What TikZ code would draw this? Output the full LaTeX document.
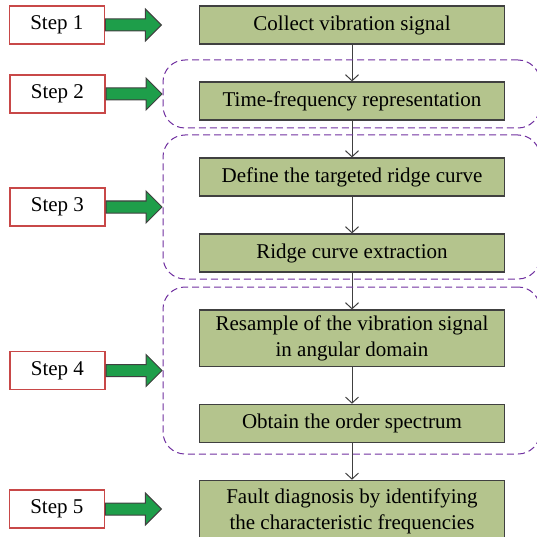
\documentclass[tikz,border=0pt]{standalone}
\usepackage{fontspec}
\setmainfont{Liberation Serif}
\usetikzlibrary{shapes, shapes.arrows, arrows.meta, positioning, fit}

\definecolor{boxgreen}{RGB}{180,196,141}
\definecolor{arrowgreen}{RGB}{30,158,74}
\definecolor{edgegray}{RGB}{64,64,64}
\definecolor{stepred}{RGB}{200,72,72}
\definecolor{grppurple}{RGB}{112,48,160}

\begin{document}
\begin{tikzpicture}[x=1pt, y=-1pt, node distance=36.8pt, line width=1pt]
\tikzstyle{every node}=[font=\fontsize{21}{26}\selectfont]
\tikzstyle{task}=[draw=edgegray, fill=boxgreen, line width=1.2pt, minimum width=305pt, minimum height=38pt, inner sep=5.5pt, align=center]
\tikzstyle{stepbox}=[draw=stepred, fill=white, line width=1.2pt, minimum width=95pt, minimum height=38pt]
\tikzstyle{bigarrow}=[single arrow, draw=edgegray, fill=arrowgreen, line width=1pt, minimum height=56pt, minimum width=31pt, single arrow head extend=10pt, single arrow head indent=0pt, inner xsep=0pt, inner ysep=5.5pt]
\tikzstyle{grp}=[draw=grppurple, dash pattern=on 7pt off 4pt, rounded corners=22pt, inner sep=0pt]
\tikzstyle{flow}=[draw=edgegray, -{Straight Barb[length=6pt, width=13pt]}]
\useasboundingbox (0,0) rectangle (537,537);
\clip (0,0) rectangle (537,537);

% processing chain
\node[task] (c1) at (352,25) {Collect vibration signal};
\node[task, below=of c1] (c2) {Time-frequency representation};
\node[task, below=of c2] (c3) {Define the targeted ridge curve};
\node[task, below=of c3] (c4) {Ridge curve extraction};
\node[task, below=of c4] (c5) {Resample of the vibration signal\\in angular domain};
\node[task, below=of c5] (c6) {Obtain the order spectrum};
\node[task, below=of c6, minimum height=62pt] (c7) {Fault diagnosis by identifying\\the characteristic frequencies};

\draw[flow] (c1) -- (c2);
\draw[flow] (c2) -- (c3);
\draw[flow] (c3) -- (c4);
\draw[flow] (c4) -- (c5);
\draw[flow] (c5) -- (c6);
\draw[flow] (c6) -- (c7);

% dashed groups
\node[grp, fit={(163,60) (540,128)}] (g1) {};
\node[grp, fit={(163,135) (540,279)}] (g2) {};
\node[grp, fit={(163,287) (540,454)}] (g3) {};

% steps
\node[stepbox, left=94pt of c1] (s1) {Step 1};
\node[stepbox, left=57pt of g1] (s2) {Step 2};
\node[stepbox, left=57pt of g2] (s3) {Step 3};
\node[stepbox, left=57pt of g3] (s4) {Step 4};
\node[stepbox, left=94pt of c7.west|-{(0,509)}] (s5) {Step 5};

\node[bigarrow, right=0pt of s1] (a1) {};
\node[bigarrow, right=0pt of s2] (a2) {};
\node[bigarrow, right=0pt of s3] (a3) {};
\node[bigarrow, right=0pt of s4] (a4) {};
\node[bigarrow, right=0pt of s5] (a5) {};

\end{tikzpicture}
\end{document}
